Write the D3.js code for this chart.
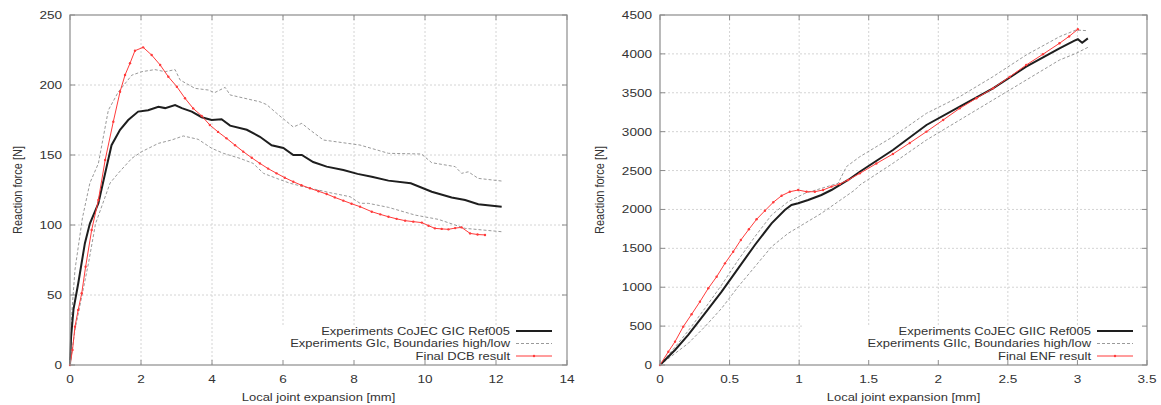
<!DOCTYPE html>
<html>
<head>
<meta charset="utf-8">
<script src="https://cdn.jsdelivr.net/npm/d3@7"></script>
<style>
  body { margin: 0; background: #fff; }
  svg text { font-family: "Liberation Sans", Arial, sans-serif; fill: #333; }
</style>
</head>
<body>
<svg id="chart" width="1161" height="405"></svg>
<script>

// ---- DCB (mode I) data ----
var dcbMean = [[0,0],[0.03,20],[0.1,40],[0.23,58],[0.42,87],[0.56,101],[0.8,115.5],[0.99,137],[1.17,157],[1.41,168],[1.64,175],
  [1.92,181],[2.2,182],[2.49,184.5],[2.68,183.5],[2.96,185.7],[3.15,183.5],[3.43,181],[3.71,177],[3.99,175],[4.27,175.5],
  [4.51,171],[4.98,168],[5.35,163],[5.68,157],[6.01,155],[6.29,150],[6.53,150],[6.85,145],[7.23,141.7],[7.7,139.3],
  [8.1,136.5],[8.5,134.5],[8.97,131.7],[9.6,129.8],[10.19,123.8],[10.75,119.7],[11.13,117.9],[11.5,114.8],[12.16,113.1]];

var dcbHigh = [[0,0],[0.05,37],[0.14,68],[0.35,105],[0.56,130],[0.8,144],[1.08,182],[1.36,195],[1.74,207],[2.02,209.5],
  [2.39,211],[2.68,209.5],[2.96,211],[3.1,203.6],[3.52,197.6],[3.9,196.4],[4.07,194.5],[4.37,198.3],[4.51,192.9],
  [5.35,188],[5.54,186],[5.82,179.8],[6.29,170],[6.53,172.6],[6.76,167.9],[7.14,160.7],[8.17,157.1],[8.97,151.2],
  [9.9,150.7],[10.19,144.5],[10.85,141.7],[11.03,136.9],[11.22,138],[11.5,133.3],[12.16,131.4]];

var dcbLow = [[0,0],[0.14,25],[0.33,48.8],[0.52,72.6],[0.72,101],[1.13,130],[1.36,137],[1.74,147.6],[2.02,152.4],
  [2.49,158.3],[2.86,160.7],[3.19,163.6],[3.61,161.2],[3.99,154.8],[4.32,151.2],[4.79,147.6],[5.16,144],[5.45,136.9],
  [5.82,133.3],[6.2,129.8],[6.57,127.4],[7.32,123.1],[7.89,120.2],[8.17,115.5],[8.4,115.5],[8.97,112.6],[9.72,107.1],
  [10.38,104],[11.13,97.6],[12.16,95.2]];

var dcbFinal = [[0,0],[0.07,10.7],[0.14,27.4],[0.23,39.3],[0.33,51.2],[0.44,70.2],[0.61,96.4],[0.8,117.9],[0.99,146.4],
  [1.22,173.8],[1.41,195.2],[1.55,207.1],[1.69,215.5],[1.83,224.5],[2.06,226.9],[2.3,221.4],[2.54,214.3],[2.77,205.9],
  [3.01,198.8],[3.24,190.5],[3.47,183.3],[3.71,177.9],[3.94,171.4],[4.17,166.5],[4.41,161.9],[4.65,157],[4.88,152.4],
  [5.12,148],[5.35,144],[5.58,140.3],[5.82,136.9],[6.05,133.8],[6.29,130.9],[6.52,128.4],[6.76,126.2],[7.0,124.1],
  [7.23,122.1],[7.46,119.7],[7.7,117.4],[7.93,115.2],[8.17,113.1],[8.5,109.5],[8.74,107.6],[8.97,105.9],[9.2,104.4],
  [9.44,103.1],[9.67,102.4],[9.91,101.7],[10.1,99.5],[10.28,97.6],[10.47,97.2],[10.66,96.9],[10.85,97.8],[11.03,98.3],
  [11.27,94],[11.48,93.2],[11.69,92.9]];

// ---- ENF (mode II) data ----
var enfMean = [[0,0],[0.108,193],[0.203,386],[0.323,664],[0.443,943],[0.562,1243],[0.682,1543],[0.802,1822],[0.897,1993],
  [0.945,2057],[0.993,2079],[1.065,2121],[1.16,2186],[1.232,2250],[1.352,2379],[1.436,2485],[1.674,2764],[1.915,3086],
  [2.154,3321],[2.393,3557],[2.632,3835],[2.871,4071],[2.979,4170],[3.003,4188],[3.034,4144],[3.075,4200]];

var enfHigh = [[0,0],[0.108,230],[0.203,440],[0.323,729],[0.443,1029],[0.562,1350],[0.682,1650],[0.802,1929],[0.921,2100],
  [1.041,2207],[1.16,2271],[1.28,2336],[1.34,2550],[1.436,2678],[1.674,2935],[1.915,3236],[2.154,3450],[2.393,3707],
  [2.632,3986],[2.871,4221],[2.99,4307],[3.075,4298]];

var enfLow = [[0,0],[0.203,279],[0.323,493],[0.443,729],[0.562,1007],[0.682,1264],[0.802,1521],[0.921,1693],[1.041,1822],
  [1.16,1950],[1.28,2100],[1.4,2250],[1.436,2314],[1.674,2593],[1.915,2893],[2.154,3150],[2.393,3407],[2.632,3664],
  [2.871,3921],[2.99,4007],[3.075,4084]];

var enfFinal = [[0,0],[0.06,171],[0.108,300],[0.167,493],[0.227,652],[0.287,814],[0.347,986],[0.407,1135],[0.467,1307],
  [0.526,1457],[0.581,1607],[0.639,1745],[0.694,1873],[0.754,1984],[0.814,2092],[0.874,2177],[0.933,2228],[0.993,2250],
  [1.053,2228],[1.113,2228],[1.172,2250],[1.232,2293],[1.292,2327],[1.352,2379],[1.436,2464],[1.555,2590],[1.674,2713],
  [1.795,2855],[1.915,3000],[2.035,3150],[2.154,3300],[2.274,3430],[2.393,3557],[2.513,3705],[2.632,3857],[2.752,3995],
  [2.871,4136],[2.94,4225],[3.003,4316]];

// ---- ticks and labels ----
var xTicksL = [0, 2, 4, 6, 8, 10, 12, 14];
var yTicksL = [0, 50, 100, 150, 200, 250];
var xTicksR = [0, 0.5, 1, 1.5, 2, 2.5, 3, 3.5];
var yTicksR = [0, 500, 1000, 1500, 2000, 2500, 3000, 3500, 4000, 4500];
var legendL = ["Experiments CoJEC GIC Ref005", "Experiments GIc, Boundaries high/low", "Final DCB result"];
var legendR = ["Experiments CoJEC GIIC Ref005", "Experiments GIIc, Boundaries high/low", "Final ENF result"];
var xTitle = "Local joint expansion [mm]";
var yTitle = "Reaction force [N]";

var svg = d3.select("#chart");
var stretch = 1.18; // the picture is a bit wider than tall, text looks stretched

function label(g, x, y, s, anchor, size, rot){
	return g.append("text")
		.attr("transform", "translate(" + x + "," + y + ") scale(" + stretch + ",1)" + (rot ? " rotate(-90)" : ""))
		.attr("text-anchor", anchor).style("font-size", size + "px")
		.text(s);
}

function drawPanel(opt){
	var g = svg.append("g");
	var x = d3.scaleLinear().domain(opt.xDomain).range([opt.left, opt.right]);
	var y = d3.scaleLinear().domain(opt.yDomain).range([opt.bottom, opt.top]);

	// grid (dotted)
	g.selectAll(".gx").data(opt.xTicks.slice(1, -1)).enter().append("line")
		.attr("x1", d => x(d)).attr("x2", d => x(d))
		.attr("y1", opt.top).attr("y2", opt.bottom)
		.style("stroke", "#d4d4d4").style("stroke-dasharray", "2,2");
	g.selectAll(".gy").data(opt.yTicks.slice(1, -1)).enter().append("line")
		.attr("x1", opt.left).attr("x2", opt.right)
		.attr("y1", d => y(d)).attr("y2", d => y(d))
		.style("stroke", "#d4d4d4").style("stroke-dasharray", "2,2");

	// legend background hides the grid behind it
	g.append("rect")
		.attr("x", opt.legBoxLeft).attr("y", opt.bottom - 40)
		.attr("width", opt.right - opt.legBoxLeft).attr("height", 40)
		.style("fill", "#fff");

	var line = d3.line().x(d => x(d[0])).y(d => y(d[1]));

	// boundaries
	[opt.high, opt.low].forEach(function(s){
		g.append("path").datum(s).attr("d", line)
			.style("fill", "none").style("stroke", "#9a9a9a")
			.style("stroke-width", 1).style("stroke-dasharray", "3,2");
	});
	// mean
	g.append("path").datum(opt.mean).attr("d", line)
		.style("fill", "none").style("stroke", "#1e1e1e").style("stroke-width", 2);
	// final result
	g.append("path").datum(opt.fin).attr("d", line)
		.style("fill", "none").style("stroke", "#ff3b3b").style("stroke-width", 1);
	g.selectAll(".mk").data(opt.fin).enter().append("circle")
		.attr("cx", d => x(d[0])).attr("cy", d => y(d[1])).attr("r", 1.2)
		.style("fill", "#ff3b3b");

	// frame + mirrored inward ticks
	g.append("rect").attr("x", opt.left).attr("y", opt.top)
		.attr("width", opt.right - opt.left).attr("height", opt.bottom - opt.top)
		.style("fill", "none").style("stroke", "#8c8c8c").style("stroke-width", 1.2);
	opt.xTicks.forEach(function(t){
		g.append("line").attr("x1", x(t)).attr("x2", x(t)).attr("y1", opt.bottom).attr("y2", opt.bottom - 5).style("stroke", "#8c8c8c");
		g.append("line").attr("x1", x(t)).attr("x2", x(t)).attr("y1", opt.top).attr("y2", opt.top + 5).style("stroke", "#8c8c8c");
	});
	opt.yTicks.forEach(function(t){
		g.append("line").attr("x1", opt.left).attr("x2", opt.left + 5).attr("y1", y(t)).attr("y2", y(t)).style("stroke", "#8c8c8c");
		g.append("line").attr("x1", opt.right).attr("x2", opt.right - 5).attr("y1", y(t)).attr("y2", y(t)).style("stroke", "#8c8c8c");
	});

	// tick labels
	opt.xTicks.forEach(function(t){
		label(g, x(t), opt.bottom + 17.5, t, "middle", 11.5);
	});
	opt.yTicks.forEach(function(t){
		label(g, opt.left - 8, y(t) + 4, t, "end", 11.5);
	});

	// axis titles
	label(g, (opt.left + opt.right) / 2, opt.bottom + 36, xTitle, "middle", 11);
	label(g, opt.yTitleX, (opt.top + opt.bottom) / 2, yTitle, "middle", 11, true);

	// legend
	var rowsY = [331, 343.5, 356];
	var styles = [
		{stroke: "#1e1e1e", w: 2, dash: null, mk: false},
		{stroke: "#9a9a9a", w: 1, dash: "3,2", mk: false},
		{stroke: "#ff3b3b", w: 1, dash: null, mk: true}
	];
	opt.legend.forEach(function(lbl, i){
		label(g, opt.legTextRight, rowsY[i] + 3.9, lbl, "end", 11);
		g.append("line").attr("x1", opt.legTextRight + 6).attr("x2", opt.legTextRight + 42)
			.attr("y1", rowsY[i]).attr("y2", rowsY[i])
			.style("stroke", styles[i].stroke).style("stroke-width", styles[i].w)
			.style("stroke-dasharray", styles[i].dash);
		if (styles[i].mk) {
			g.append("circle").attr("cx", opt.legTextRight + 24).attr("cy", rowsY[i]).attr("r", 1.2)
				.style("fill", styles[i].stroke);
		}
	});
}

drawPanel({
	left: 70, right: 567, top: 15, bottom: 365,
	xDomain: [0, 14], yDomain: [0, 250],
	xTicks: xTicksL, yTicks: yTicksL,
	mean: dcbMean, high: dcbHigh, low: dcbLow, fin: dcbFinal,
	legend: legendL, legTextRight: 510, legBoxLeft: 224, yTitleX: 22
});

drawPanel({
	left: 660, right: 1147, top: 15, bottom: 365,
	xDomain: [0, 3.5], yDomain: [0, 4500],
	xTicks: xTicksR, yTicks: yTicksR,
	mean: enfMean, high: enfHigh, low: enfLow, fin: enfFinal,
	legend: legendR, legTextRight: 1091, legBoxLeft: 804, yTitleX: 604
});

</script>
</body>
</html>
